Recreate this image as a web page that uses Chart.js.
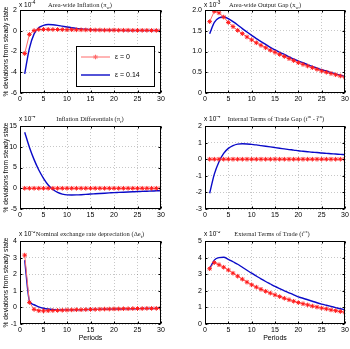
<!DOCTYPE html>
<html><head><meta charset="utf-8">
<script src="https://cdn.jsdelivr.net/npm/chart.js@4"></script>
<style>
html,body{margin:0;padding:0;background:#fff;overflow:hidden;width:350px;height:349px;position:relative}
canvas{position:absolute;display:block}
</style></head><body>
<canvas id="c0"></canvas><canvas id="c1"></canvas><canvas id="c2"></canvas>
<canvas id="c3"></canvas><canvas id="c4"></canvas><canvas id="c5"></canvas>
<script>
// ---- data ----
const periods = [1,2,3,4,5,6,7,8,9,10,11,12,13,14,15,16,17,18,19,20,21,22,23,24,25,26,27,28,29,30];
const seriesLabels = ['ε = 0', 'ε = 0.14'];
// Area-wide inflation (x 10^-4)
const inflW_e0  = [-2.2,-0.35,0.02,0.12,0.13,0.13,0.12,0.12,0.11,0.1,0.1,0.09,0.09,0.08,0.08,0.07,0.07,0.06,0.06,0.06,0.05,0.05,0.05,0.04,0.04,0.04,0.04,0.03,0.03,0.03];
const inflW_e14 = [-4.15,-1.7,-0.3,0.3,0.52,0.6,0.58,0.52,0.44,0.36,0.29,0.23,0.18,0.14,0.11,0.09,0.07,0.06,0.05,0.04,0.04,0.03,0.03,0.03,0.02,0.02,0.02,0.02,0.02,0.02];
// Area-wide output gap (x 10^-3)
const gapW_e0  = [1.72,1.97,1.93,1.83,1.70,1.60,1.51,1.43,1.35,1.28,1.21,1.15,1.09,1.03,0.98,0.93,0.88,0.83,0.78,0.73,0.69,0.65,0.61,0.57,0.53,0.50,0.47,0.44,0.41,0.38];
const gapW_e14 = [1.43,1.70,1.81,1.83,1.79,1.72,1.64,1.55,1.47,1.39,1.31,1.24,1.17,1.10,1.04,0.98,0.93,0.87,0.82,0.77,0.73,0.68,0.64,0.60,0.56,0.53,0.49,0.46,0.43,0.39];
// Inflation differentials (x 10^-4)
const inflR_e0  = [0,0,0,0,0,0,0,0,0,0,0,0,0,0,0,0,0,0,0,0,0,0,0,0,0,0,0,0,0,0];
const inflR_e14 = [13.5,9.9,6.9,4.4,2.4,0.8,-0.3,-1.0,-1.4,-1.6,-1.62,-1.6,-1.55,-1.48,-1.4,-1.33,-1.26,-1.19,-1.12,-1.05,-1.0,-0.95,-0.9,-0.85,-0.8,-0.76,-0.71,-0.67,-0.62,-0.58];
// Internal terms of trade gap (x 10^-4)
const totIn_e0  = [0,0,0,0,0,0,0,0,0,0,0,0,0,0,0,0,0,0,0,0,0,0,0,0,0,0,0,0,0,0];
const totIn_e14 = [-2.05,-0.9,-0.15,0.35,0.65,0.82,0.91,0.93,0.92,0.89,0.86,0.82,0.78,0.74,0.7,0.66,0.62,0.58,0.55,0.51,0.48,0.45,0.42,0.4,0.37,0.35,0.33,0.31,0.29,0.27];
// Nominal exchange rate depreciation (x 10^-3)
const ner_e0  = [3.15,0.3,-0.12,-0.2,-0.21,-0.2,-0.19,-0.18,-0.17,-0.16,-0.15,-0.14,-0.14,-0.13,-0.12,-0.12,-0.11,-0.1,-0.1,-0.09,-0.09,-0.08,-0.08,-0.07,-0.07,-0.07,-0.06,-0.06,-0.06,-0.05];
const ner_e14 = [2.85,0.4,0.16,0.03,-0.05,-0.1,-0.13,-0.15,-0.15,-0.15,-0.15,-0.14,-0.14,-0.13,-0.13,-0.12,-0.12,-0.11,-0.11,-0.1,-0.1,-0.09,-0.09,-0.08,-0.08,-0.07,-0.07,-0.07,-0.06,-0.06];
// External terms of trade (x 10^-3)
const totEx_e0  = [3.33,3.70,3.57,3.42,3.25,3.06,2.88,2.70,2.52,2.36,2.22,2.09,1.97,1.86,1.75,1.65,1.55,1.46,1.37,1.29,1.22,1.15,1.08,1.02,0.96,0.91,0.85,0.80,0.75,0.71];
const totEx_e14 = [3.33,3.85,4.00,4.02,3.90,3.75,3.60,3.42,3.24,3.06,2.89,2.72,2.56,2.41,2.26,2.13,2.00,1.88,1.76,1.63,1.55,1.46,1.37,1.28,1.20,1.13,1.06,0.99,0.92,0.86];

const xTickStep = 5;
const yLabel = '% deviations from steady state';
const xLabel = 'Periods';

// ---- panels ----
const panels = [
  {id:'c0', col:0,row:0, d0:inflW_e0, d1:inflW_e14, min:-6,max:2,step:2, exp:'-4', tx:80,
   title:[{t:'Area-wide Inflation (π'},{t:'w',s:'sub'},{t:')'}], legend:true},
  {id:'c1', col:1,row:0, d0:gapW_e0, d1:gapW_e14, min:0,max:2,step:0.5, exp:'-3', tx:265,
   title:[{t:'Area-wide Output Gap (x'},{t:'w',s:'sub'},{t:')'}]},
  {id:'c2', col:0,row:1, d0:inflR_e0, d1:inflR_e14, min:-5,max:15,step:5, exp:'-4', tx:90,
   title:[{t:'Inflation Differentials (π'},{t:'r',s:'sub'},{t:')'}]},
  {id:'c3', col:1,row:1, d0:totIn_e0, d1:totIn_e14, min:-3,max:2,step:1, exp:'-4', tx:276,
   title:[{t:'Internal Terms of Trade Gap (t'},{t:'in',s:'sup'},{t:' - t̄'},{t:'in',s:'sup'},{t:')'}]},
  {id:'c4', col:0,row:2, d0:ner_e0, d1:ner_e14, min:-1,max:4,step:1, exp:'-3', tx:90,
   title:[{t:'Nominal exchange rate depreciation (Δe'},{t:'t',s:'sub'},{t:')'}]},
  {id:'c5', col:1,row:2, d0:totEx_e0, d1:totEx_e14, min:0,max:5,step:1, exp:'-3', tx:272,
   title:[{t:'External Terms of Trade (t'},{t:'ex',s:'sup'},{t:')'}]}
];

const colPos = [{left:0,width:167},{left:185,width:166}];
const rowPos = [{top:0,height:107},{top:116,height:107},{top:231,height:118}];
const SANS = '"Liberation Sans", Arial, sans-serif';
const SERIF = '"Liberation Serif", "Times New Roman", serif';

function rich(ctx, segs, x, y, size, family, align){
  let w = 0;
  const m = segs.map(s => {
    const fs = s.s ? size*0.72 : size;
    ctx.font = fs + 'px ' + family;
    const sw = ctx.measureText(s.t).width; w += sw;
    return {t:s.t, fs, sw, dy: s.s==='sub' ? size*0.3 : (s.s==='sup' ? -size*0.45 : 0)};
  });
  let cx = align === 'center' ? x - w/2 : x;
  ctx.textAlign = 'left';
  ctx.textBaseline = 'alphabetic';
  m.forEach(s => { ctx.font = s.fs + 'px ' + family; ctx.fillText(s.t, cx, y + s.dy); cx += s.sw; });
}

function makeDeco(p, canvasLeft){
  return {
    id:'deco',
    afterDraw(chart){
      const ctx = chart.ctx, a = chart.chartArea;
      const xs = chart.scales.x, ys = chart.scales.y;
      ctx.save();
      ctx.fillStyle = '#000';
      ctx.strokeStyle = '#000';
      ctx.lineWidth = 1;
      const L = Math.round(a.left)+0.5, R = Math.round(a.right)-0.5, T = Math.round(a.top)+0.5, B = Math.round(a.bottom)-0.5;
      // inward tick marks
      ctx.beginPath();
      xs.ticks.forEach(t => { const px = Math.round(xs.getPixelForValue(t.value))+0.5; ctx.moveTo(px,B); ctx.lineTo(px,B-2); ctx.moveTo(px,T); ctx.lineTo(px,T+2); });
      ys.ticks.forEach(t => { const py = Math.round(ys.getPixelForValue(t.value))+0.5; ctx.moveTo(L,py); ctx.lineTo(L+2,py); ctx.moveTo(R,py); ctx.lineTo(R-2,py); });
      ctx.stroke();
      // frame
      ctx.strokeRect(L, T, R-L, B-T);
      // title
      const tb = p.row === 0 ? a.top - 3 : a.top - 5;
      ctx.fillStyle = '#222';
      rich(ctx, p.title, p.tx - canvasLeft, tb, 6.5, SERIF, 'center');
      // exponent
      ctx.fillStyle = '#000';
      rich(ctx, [{t:'x 10'},{t:p.exp,s:'sup'}], a.left - 1, tb, 6.5, SANS, 'left');
      // y label
      if (p.col === 0) {
        ctx.save();
        ctx.translate(6, (a.top + a.bottom)/2);
        ctx.rotate(-Math.PI/2);
        ctx.font = '6.6px ' + SANS;
        ctx.textAlign = 'center'; ctx.textBaseline = 'middle';
        ctx.fillText(yLabel, 0, 0);
        ctx.restore();
      }
      // x label
      if (p.row === 2) {
        ctx.font = '7px ' + SANS;
        ctx.textAlign = 'center'; ctx.textBaseline = 'middle';
        ctx.fillText(xLabel, (a.left + a.right)/2, a.bottom + 14);
      }
      // legend
      if (p.legend) {
        const bx = 76.5, by = 46.5, bw = 78, bh = 40;
        ctx.fillStyle = '#fff';
        ctx.fillRect(bx, by, bw, bh);
        ctx.strokeStyle = '#000';
        ctx.strokeRect(bx, by, bw, bh);
        const ds = chart.data.datasets;
        const ys2 = [57, 75];
        ds.forEach((d, i) => {
          ctx.strokeStyle = d.borderColor; ctx.lineWidth = d.borderWidth;
          ctx.beginPath(); ctx.moveTo(81, ys2[i]); ctx.lineTo(110, ys2[i]); ctx.stroke();
          if (d.pointRadius > 0) {
            Chart.helpers.drawPoint(ctx, {pointStyle:'star', radius:d.pointRadius, borderWidth:1, rotation:0}, 95.5, ys2[i]);
          }
          ctx.fillStyle = '#000';
          ctx.font = '7px ' + SANS;
          ctx.textAlign = 'left'; ctx.textBaseline = 'middle';
          ctx.fillText(d.label, 115, ys2[i]);
        });
      }
      ctx.restore();
    }
  };
}

panels.forEach(p => {
  const cv = document.getElementById(p.id);
  const c = colPos[p.col], r = rowPos[p.row];
  cv.width = c.width; cv.height = r.height;
  cv.style.left = c.left + 'px'; cv.style.top = r.top + 'px';
  cv.style.width = c.width + 'px'; cv.style.height = r.height + 'px';
  const toPts = arr => periods.map((x, i) => ({x, y: arr[i]}));
  new Chart(cv, {
    type:'line',
    data:{datasets:[
      {label:seriesLabels[0], data:toPts(p.d0), borderColor:'#ff6a6a', borderWidth:1,
       pointStyle:'star', pointRadius:2.3, pointBorderWidth:1, pointBorderColor:'#ff1a1a', pointBackgroundColor:'#ff1a1a', tension:0},
      {label:seriesLabels[1], data:toPts(p.d1), borderColor:'#0a0ac8', borderWidth:1.4,
       pointRadius:0, cubicInterpolationMode:'monotone'}
    ]},
    options:{
      responsive:false, animation:false, devicePixelRatio:1,
      layout:{padding:{top:10, right:6, left:0, bottom: p.row === 2 ? 11 : 0}},
      plugins:{legend:{display:false}, tooltip:{enabled:false}},
      scales:{
        x:{type:'linear', min:0, max:30,
           ticks:{stepSize:xTickStep, font:{size:7, family:SANS}, color:'#000', padding:2, maxRotation:0, autoSkip:false},
           grid:{color:'rgba(0,0,0,0.28)', lineWidth:0.8, drawTicks:false},
           border:{display:false, dash:[1,2]},
           afterFit(s){ s.height = 14; }},
        y:{min:p.min, max:p.max,
           ticks:{stepSize:p.step, font:{size:7, family:SANS}, color:'#000', padding:3, autoSkip:false},
           grid:{color:'rgba(0,0,0,0.28)', lineWidth:0.8, drawTicks:false},
           border:{display:false, dash:[1,2]},
           afterFit(s){ s.width = 20; }}
      }
    },
    plugins:[makeDeco(p, c.left)]
  });
});
</script>
</body></html>
